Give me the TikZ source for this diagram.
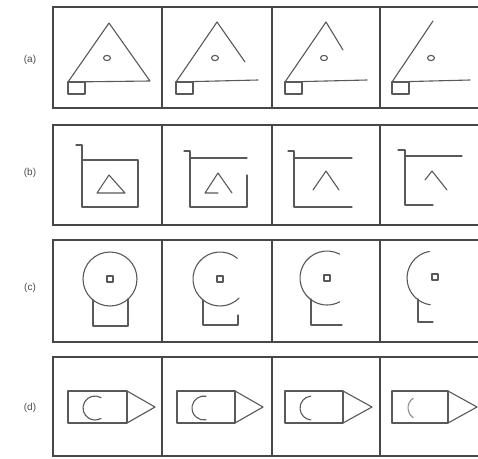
\documentclass[tikz,border=0pt]{standalone}
\usepackage{fontspec}
\setmainfont{Liberation Sans}
\begin{document}
\begin{tikzpicture}[x=1pt,y=-1pt,
  fig/.style={draw=black!65,line width=1.1pt,line cap=round,line join=round},
  frame/.style={draw=black!72,line width=1.1pt},
  lab/.style={font=\fontsize{10}{12}\selectfont,text=black!70,inner sep=0pt}]
\useasboundingbox (0,0) rectangle (478,458);
\fill[white] (0,0) rectangle (478,458);
% frames
\foreach \t/\b in {7/108,125/225,240/342,357/456}{
  \draw[frame] (492,\t) -- (53,\t) -- (53,\b) -- (492,\b);
  \foreach \x in {162,272,380} \draw[frame] (\x,\t) -- (\x,\b);
}
% labels
\node[lab] (la) at (30,60) {(a)};
\node[lab] (lb) at (30,173) {(b)};
\node[lab] (lc) at (30,288) {(c)};
\node[lab] (ld) at (30,408) {(d)};
% row a
\draw[fig] (68,82) -- (109,23) -- (150,81) -- cycle;
\draw[fig] (107,58) ellipse[x radius=3.5,y radius=2.6];
\draw[fig] (68,82) rectangle (85,94);
\draw[fig] (245,62) -- (217,22) -- (176,82) -- (258,80);
\draw[fig] (215,58) ellipse[x radius=3.5,y radius=2.6];
\draw[fig] (176,82) rectangle (193,94);
\draw[fig] (343,50) -- (326,22) -- (285,82) -- (367,80);
\draw[fig] (324,58) ellipse[x radius=3.5,y radius=2.6];
\draw[fig] (285,82) rectangle (302,94);
\draw[fig] (433,21) -- (392,82) -- (470,80);
\draw[fig] (431,58) ellipse[x radius=3.5,y radius=2.6];
\draw[fig] (392,82) rectangle (409,94);
% row b
\draw[fig] (76,145) -- (82,145) -- (82,207) -- (138,207) -- (138,160) -- (82,160);
\draw[fig] (109,175) -- (97,193) -- (125,193) -- cycle;
\draw[fig] (184,151) -- (190,151) -- (190,207) -- (247,207) -- (247,175);
\draw[fig] (190,158) -- (247,158);
\draw[fig] (218,193) -- (205,193) -- (218,173) -- (232,193);
\draw[fig] (288,151) -- (294,151) -- (294,207) -- (352,207);
\draw[fig] (294,158) -- (352,158);
\draw[fig] (313,190) -- (326,171) -- (339,190);
\draw[fig] (398,150) -- (405,150) -- (405,205) -- (433,205);
\draw[fig] (405,156) -- (462,156);
\draw[fig] (425,180) -- (432,171) -- (447,190);
% row c
\draw[fig] (110,279) circle[radius=27];
\draw[fig] (107,276) rectangle (113,282);
\draw[fig] (93,300) -- (93,326) -- (128,326) -- (128,299);
\draw[fig] (220,279) ++(-50:27) arc[start angle=-50,end angle=-315,radius=27];
\draw[fig] (217,276) rectangle (223,282);
\draw[fig] (203,300) -- (203,325) -- (238,325) -- (238,315);
\draw[fig] (327,278) ++(-62:27) arc[start angle=-62,end angle=-298,radius=27];
\draw[fig] (324,275) rectangle (330,281);
\draw[fig] (311,299) -- (311,325) -- (342,325);
\draw[fig] (434,278) ++(-100:27) arc[start angle=-100,end angle=-262,radius=27];
\draw[fig] (432,274) rectangle (438,280);
\draw[fig] (418,299) -- (418,322) -- (433,322);
% row d
\draw[fig] (68,391) rectangle (127,423);
\draw[fig] (127,391) -- (155,407) -- (127,423);
\draw[fig] (95,408) ++(-60:12) arc[start angle=-60,end angle=-300,radius=12];
\draw[fig] (177,391) rectangle (235,423);
\draw[fig] (235,391) -- (263,407) -- (235,423);
\draw[fig] (204,408) ++(-80:12) arc[start angle=-80,end angle=-280,radius=12];
\draw[fig] (285,391) rectangle (343,423);
\draw[fig] (343,391) -- (372,407) -- (343,423);
\draw[fig] (312,408) ++(-95:12) arc[start angle=-95,end angle=-265,radius=12];
\draw[fig] (392,391) rectangle (448,423);
\draw[fig] (448,391) -- (477,407) -- (448,423);
\draw[fig,draw=black!45] (420,408) ++(-125:12) arc[start angle=-125,end angle=-235,radius=12];
\end{tikzpicture}
\end{document}
